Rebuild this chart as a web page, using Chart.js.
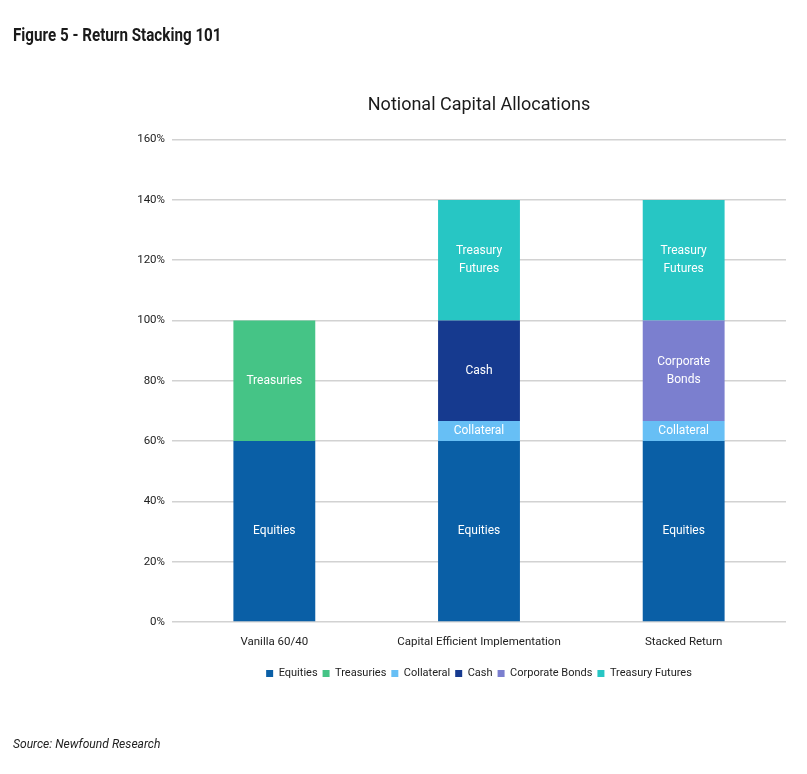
<!DOCTYPE html>
<html>
<head>
<meta charset="utf-8">
<script src="https://cdn.jsdelivr.net/npm/chart.js@4.4.1/dist/chart.umd.min.js"></script>
<style>
  html, body { margin: 0; padding: 0; background: #fff; }
  body { width: 807px; height: 774px; position: relative; overflow: hidden; }
  #wrap { position: absolute; left: 0; top: 0; width: 807px; height: 774px; }
  #figTitle { position: absolute; left: 13px; top: 23px; font: bold 19px "Roboto", sans-serif; color: #1a1a1a; transform: scaleX(0.8); transform-origin: left top; white-space: nowrap; }
  #source { position: absolute; left: 13px; top: 736px; font: italic 13px "Roboto", sans-serif; color: #222; transform: scaleX(0.93); transform-origin: left top; white-space: nowrap; }
</style>
</head>
<body>
<div id="wrap"><canvas id="allocChart"></canvas></div>
<div id="figTitle">Figure 5 - Return Stacking 101</div>
<div id="source">Source: Newfound Research</div>
<script>
var categories = ['Vanilla 60/40', 'Capital Efficient Implementation', 'Stacked Return'];
var equities = [60, 60, 60];
var treasuries = [40, null, null];
var collateral = [null, 6.67, 6.67];
var cash = [null, 33.33, null];
var corporateBonds = [null, null, 33.33];
var treasuryFutures = [null, 40, 40];
var yTicks = [0, 20, 40, 60, 80, 100, 120, 140, 160];

var fontFam = '"Roboto", sans-serif';

// white labels inside each stacked segment
var segmentLabels = {
    id: 'segmentLabels',
    afterDatasetsDraw: function(chart) {
        var ctx = chart.ctx;
        ctx.save();
        ctx.fillStyle = '#ffffff';
        ctx.font = '12px ' + fontFam;
        ctx.textAlign = 'center';
        ctx.textBaseline = 'middle';
        chart.data.datasets.forEach(function(ds, i) {
            var meta = chart.getDatasetMeta(i);
            if (meta.hidden) return;
            var lines = ds.segText;
            meta.data.forEach(function(bar, j) {
                if (ds.data[j] == null) return;
                var cy = (bar.y + bar.base) / 2;
                var lh = 18;
                var start = cy - (lines.length - 1) * lh / 2;
                lines.forEach(function(t, k) {
                    ctx.fillText(t, bar.x, start + k * lh);
                });
            });
        });
        ctx.restore();
    }
};

var ctx = document.getElementById('allocChart').getContext('2d');
var mychart = new Chart(ctx, {
    type: 'bar',
    data: {
        labels: categories,
        datasets: [
            { label: 'Equities', data: equities, backgroundColor: '#0a5fa6', segText: ['Equities'] },
            { label: 'Treasuries', data: treasuries, backgroundColor: '#45c486', segText: ['Treasuries'] },
            { label: 'Collateral', data: collateral, backgroundColor: '#67bff5', segText: ['Collateral'] },
            { label: 'Cash', data: cash, backgroundColor: '#163a8f', segText: ['Cash'] },
            { label: 'Corporate Bonds', data: corporateBonds, backgroundColor: '#7b7fcf', segText: ['Corporate', 'Bonds'] },
            { label: 'Treasury Futures', data: treasuryFutures, backgroundColor: '#27c6c4', segText: ['Treasury', 'Futures'] }
        ]
    },
    options: {
        responsive: true,
        maintainAspectRatio: false,
        animation: false,
        datasets: { bar: { barPercentage: 0.4, categoryPercentage: 1.0 } },
        layout: { padding: { left: 0, right: 21, top: 80, bottom: 85 } },
        scales: {
            x: {
                stacked: true,
                grid: { display: false, drawTicks: false },
                border: { display: false },
                ticks: { color: '#222', font: { family: fontFam, size: 11.5 }, padding: 13 },
                afterFit: function(s) { s.height = 41; }
            },
            y: {
                stacked: true,
                min: 0,
                max: 160,
                afterBuildTicks: function(s) { s.ticks = yTicks.map(function(v) { return { value: v }; }); },
                grid: { color: '#d2d2d2', lineWidth: 1.5, drawTicks: false },
                border: { display: false },
                ticks: {
                    color: '#222',
                    font: { family: fontFam, size: 11.5 },
                    padding: 7,
                    callback: function(v) { return v + '%'; }
                },
                afterFit: function(s) { s.width = 172; }
            }
        },
        plugins: {
            title: {
                display: true,
                fullSize: false,
                text: 'Notional Capital Allocations',
                color: '#1a1a1a',
                font: { family: fontFam, size: 18, weight: 'normal' },
                padding: { top: 15, bottom: 23 }
            },
            legend: {
                position: 'bottom',
                fullSize: false,
                labels: {
                    color: '#222',
                    font: { family: fontFam, size: 11 },
                    boxWidth: 7,
                    boxHeight: 7,
                    padding: 5
                }
            },
            tooltip: { enabled: false }
        }
    },
    plugins: [segmentLabels]
});
</script>
</body>
</html>
